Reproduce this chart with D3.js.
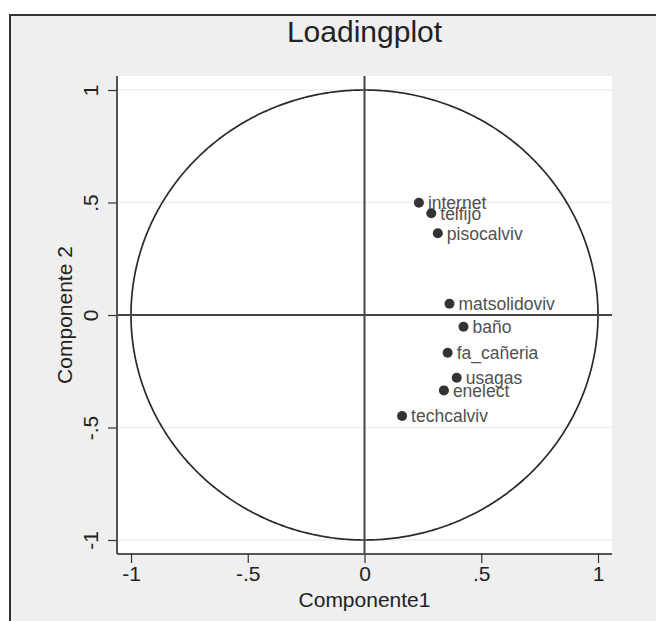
<!DOCTYPE html>
<html>
<head>
<meta charset="utf-8">
<script src="https://cdn.jsdelivr.net/npm/d3@7"></script>
<style>
  body { margin: 0; background: #fff; }
  text { font-family: "Liberation Sans", Arial, sans-serif; }
</style>
</head>
<body>
<div id="chart"></div>
<script>
// loadings
const names = ["internet", "telfijo", "pisocalviv", "matsolidoviv", "baño",
               "fa_cañeria", "usagas", "enelect", "techcalviv"];
const comp1 = [0.233, 0.286, 0.314, 0.364, 0.424, 0.356, 0.395, 0.340, 0.161];
const comp2 = [0.499, 0.452, 0.363, 0.050, -0.052, -0.168, -0.279, -0.335, -0.449];

const tickValues = [-1, -0.5, 0, 0.5, 1];
const tickLabels = ["-1", "-.5", "0", ".5", "1"];

const svg_width = 656, svg_height = 621;
const plot = {left: 117, right: 612, top: 76, bottom: 554};

const svg = d3.select("#chart")
    .append("svg")
    .attr("width", svg_width)
    .attr("height", svg_height);

// outer frame
svg.append("rect")
    .attr("x", 10).attr("y", 15)
    .attr("width", 700).attr("height", 700)
    .attr("fill", "#efefef")
    .attr("stroke", "#333")
    .attr("stroke-width", 2);

const x = d3.scaleLinear().domain([-1, 1]).range([131, 598]);
const y = d3.scaleLinear().domain([-1, 1]).range([540, 90]);

// plot region
svg.append("rect")
    .attr("x", plot.left).attr("y", plot.top)
    .attr("width", plot.right - plot.left)
    .attr("height", plot.bottom - plot.top)
    .attr("fill", "#fff");

// horizontal grid
svg.append("g")
    .selectAll("line")
    .data(tickValues)
    .join("line")
        .attr("x1", plot.left).attr("x2", plot.right)
        .attr("y1", d => y(d)).attr("y2", d => y(d))
        .attr("stroke", "#efefef")
        .attr("stroke-width", 1.5);

// unit circle
svg.append("path")
    .attr("d", d3.line()
        .x(d => x(Math.cos(d)))
        .y(d => y(Math.sin(d)))(d3.range(0, 2 * Math.PI + 0.01, 0.01)))
    .attr("fill", "none")
    .attr("stroke", "#2a2a2a")
    .attr("stroke-width", 1.7);

// reference lines at zero
svg.append("line")
    .attr("x1", x(0)).attr("x2", x(0))
    .attr("y1", plot.top).attr("y2", plot.bottom)
    .attr("stroke", "#444").attr("stroke-width", 2);
svg.append("line")
    .attr("x1", plot.left).attr("x2", plot.right)
    .attr("y1", y(0)).attr("y2", y(0))
    .attr("stroke", "#444").attr("stroke-width", 2);

// axes
const xAxis = d3.axisBottom(x)
    .tickValues(tickValues)
    .tickFormat((d, i) => tickLabels[i])
    .tickSize(9).tickPadding(3).tickSizeOuter(0);
const yAxis = d3.axisLeft(y)
    .tickValues(tickValues)
    .tickFormat((d, i) => tickLabels[i])
    .tickSize(9).tickSizeOuter(0);

const gx = svg.append("g")
    .attr("transform", `translate(0,${plot.bottom})`)
    .call(xAxis);
gx.select(".domain").attr("d", `M${plot.left},0H${plot.right}`);

const gy = svg.append("g")
    .attr("transform", `translate(${plot.left},0)`)
    .call(yAxis);
gy.select(".domain").attr("d", `M0,${plot.top}V${plot.bottom}`);

[gx, gy].forEach(g => {
    g.select(".domain").attr("stroke", "#555").attr("stroke-width", 2);
    g.selectAll(".tick line").attr("stroke", "#333").attr("stroke-width", 1.2);
    g.selectAll(".tick text")
        .attr("fill", "#222")
        .style("font-size", "21px")
        .style("font-family", "Liberation Sans, Arial, sans-serif");
});

// y tick labels read bottom-to-top
gy.selectAll(".tick text")
    .attr("x", null).attr("dy", null)
    .attr("text-anchor", "middle")
    .attr("transform", "translate(-19,0) rotate(-90)");

// points
svg.append("g")
    .selectAll("circle")
    .data(names)
    .join("circle")
        .attr("cx", (d, i) => x(comp1[i]))
        .attr("cy", (d, i) => y(comp2[i]))
        .attr("r", 5)
        .attr("fill", "#333");

svg.append("g")
    .selectAll("text")
    .data(names)
    .join("text")
        .attr("x", (d, i) => x(comp1[i]) + 9)
        .attr("y", (d, i) => y(comp2[i]))
        .attr("dy", "0.36em")
        .attr("fill", "#505050")
        .style("font-size", "17.5px")
        .text(d => d);

// titles
svg.append("text")
    .attr("x", (plot.left + plot.right) / 2)
    .attr("y", 42)
    .attr("text-anchor", "middle")
    .attr("fill", "#222")
    .style("font-size", "30px")
    .text("Loadingplot");

svg.append("text")
    .attr("x", x(0))
    .attr("y", 607)
    .attr("text-anchor", "middle")
    .attr("fill", "#222")
    .style("font-size", "21px")
    .text("Componente1");

svg.append("text")
    .attr("transform", `translate(72,${y(0)}) rotate(-90)`)
    .attr("text-anchor", "middle")
    .attr("fill", "#222")
    .style("font-size", "21px")
    .text("Componente 2");
</script>
</body>
</html>
